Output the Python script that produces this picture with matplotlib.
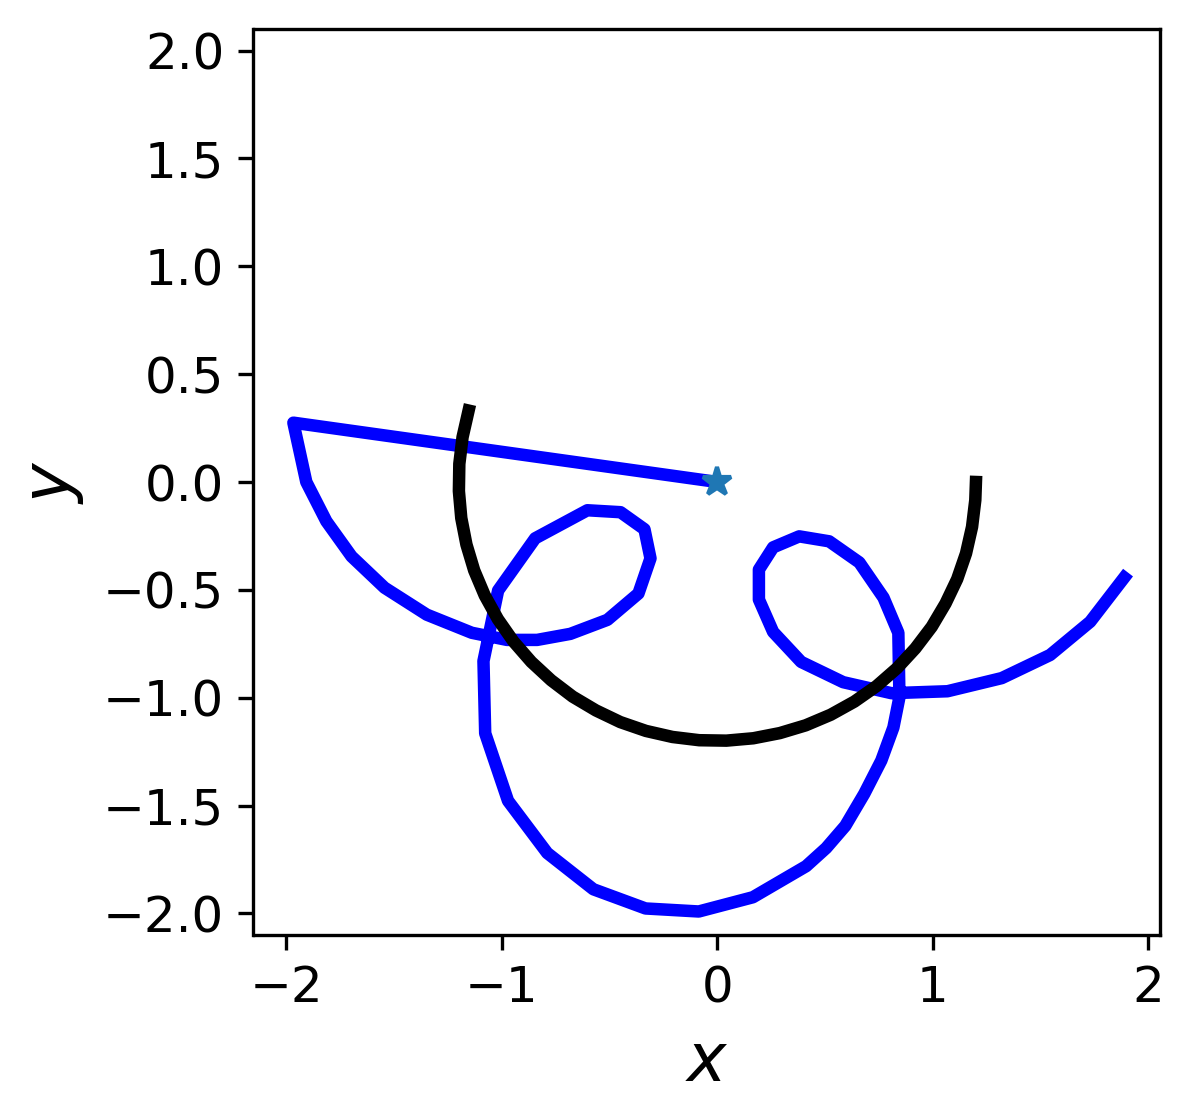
import matplotlib
matplotlib.use("Agg")
import matplotlib.pyplot as plt

# blue trajectory, starts at the star
traj_x = [0.0, -1.967, -1.907, -1.814, -1.697, -1.544, -1.348, -1.139, -0.976, -0.836,
          -0.682, -0.510, -0.366, -0.310, -0.338, -0.449, -0.603, -0.845, -1.017, -1.085,
          -1.077, -0.971, -0.789, -0.575, -0.333, -0.086, 0.165, 0.412, 0.505, 0.594,
          0.682, 0.761, 0.817, 0.845, 0.840, 0.771, 0.659, 0.519, 0.380, 0.259,
          0.193, 0.193, 0.259, 0.389, 0.584, 0.808, 1.068, 1.320, 1.544, 1.730, 1.888]
traj_y = [0.0, 0.275, 0.0, -0.182, -0.345, -0.490, -0.615, -0.699, -0.732, -0.732,
          -0.704, -0.639, -0.517, -0.354, -0.219, -0.140, -0.131, -0.261, -0.503, -0.830,
          -1.165, -1.478, -1.720, -1.888, -1.977, -1.991, -1.925, -1.781, -1.697, -1.594,
          -1.445, -1.291, -1.138, -0.998, -0.699, -0.536, -0.373, -0.275, -0.252, -0.303,
          -0.406, -0.545, -0.695, -0.834, -0.928, -0.979, -0.970, -0.909, -0.802, -0.648, -0.443]

# black reference arc
ref_x = [-1.154, -1.182, -1.197, -1.199, -1.188, -1.164, -1.128, -1.079, -1.018, -0.946,
         -0.863, -0.771, -0.671, -0.563, -0.450, -0.331, -0.208, -0.084, 0.042, 0.167,
         0.290, 0.410, 0.526, 0.636, 0.739, 0.834, 0.919, 0.995, 1.059, 1.113,
         1.154, 1.182, 1.197, 1.200]
ref_y = [0.331, 0.208, 0.084, -0.042, -0.167, -0.290, -0.410, -0.526, -0.636, -0.739,
         -0.834, -0.919, -0.995, -1.059, -1.113, -1.154, -1.182, -1.197, -1.199, -1.188,
         -1.164, -1.128, -1.079, -1.018, -0.946, -0.863, -0.771, -0.671, -0.563, -0.450,
         -0.331, -0.208, -0.084, 0.0]

start = (0.0, 0.0)

fig = plt.figure(figsize=(1193/300, 1116/300), dpi=300)
ax = fig.add_axes([253.5/1193, 1-935/1116, 906.5/1193, 906/1116])

ax.plot(traj_x, traj_y, color="b", lw=3)
ax.plot(ref_x, ref_y, color="k", lw=3)
ax.plot(start[0], start[1], "*", color="C0", ms=7)

ax.set_xlim(-2.152, 2.054)
ax.set_ylim(-2.1, 2.1)
ax.set_xticks([-2, -1, 0, 1, 2])
ax.set_yticks([-2.0, -1.5, -1.0, -0.5, 0.0, 0.5, 1.0, 1.5, 2.0])
ax.tick_params(labelsize=12)
ax.set_xlabel("$x$", fontsize=16)
ax.set_ylabel("$y$", fontsize=16)

fig.savefig("out.png", dpi=300)
